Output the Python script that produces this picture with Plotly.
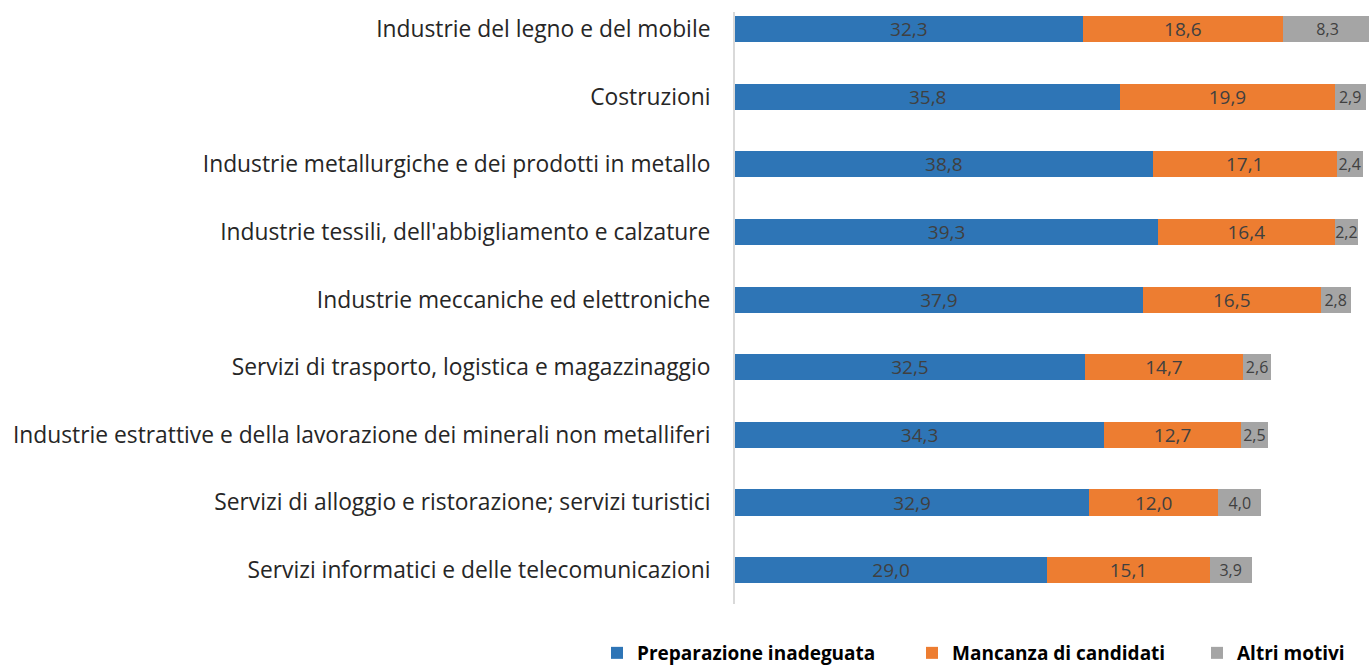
import plotly.graph_objects as go

categories = [
    "Industrie del legno e del mobile",
    "Costruzioni",
    "Industrie metallurgiche e dei prodotti in metallo",
    "Industrie tessili, dell'abbigliamento e calzature",
    "Industrie meccaniche ed elettroniche",
    "Servizi di trasporto, logistica e magazzinaggio",
    "Industrie estrattive e della lavorazione dei minerali non metalliferi",
    "Servizi di alloggio e ristorazione; servizi turistici",
    "Servizi informatici e delle telecomunicazioni",
]
preparazione = [32.3, 35.8, 38.8, 39.3, 37.9, 32.5, 34.3, 32.9, 29.0]
mancanza = [18.6, 19.9, 17.1, 16.4, 16.5, 14.7, 12.7, 12.0, 15.1]
altri = [8.3, 2.9, 2.4, 2.2, 2.8, 2.6, 2.5, 4.0, 3.9]
series_names = ["Preparazione inadeguata", "Mancanza di candidati", "Altri motivi"]

W, H = 1369, 666
FONT = "Open Sans"
colors = ["#2E75B6", "#ED7D31", "#A5A5A5"]
text_sizes = [19, 19, 16]
legend_ids = ["legend", "legend2", "legend3"]
legend_px = [597, 912, 1197]  # left edge of each legend box in px

cats_r = categories[::-1]

fig = go.Figure()
for name, vals, color, fs, lid in zip(series_names, [preparazione, mancanza, altri],
                                      colors, text_sizes, legend_ids):
    v = vals[::-1]
    fig.add_trace(go.Bar(
        y=cats_r, x=v, name=name, orientation="h", legend=lid,
        marker=dict(color=color, line=dict(width=0)),
        text=[f"{x:.1f}".replace(".", ",") for x in v],
        textposition="inside", insidetextanchor="middle",
        constraintext="none", textangle=0,
        textfont=dict(family=FONT, size=fs, color="#404040"),
        hoverinfo="skip",
    ))

legend_common = dict(
    orientation="h", xref="container", yref="container", xanchor="left",
    y=(H - 653) / H, yanchor="middle",
    font=dict(family=FONT, size=19, color="#000000", weight="bold"),
    itemwidth=30, bgcolor="rgba(0,0,0,0)",
)
legend_layout = {lid: dict(legend_common, x=px / W) for lid, px in zip(legend_ids, legend_px)}

fig.update_layout(
    barmode="stack",
    bargap=0.615,
    width=W, height=H,
    margin=dict(l=735, r=0, t=12, b=62),
    plot_bgcolor="white", paper_bgcolor="white",
    font=dict(family=FONT, size=22.8, color="#262626"),
    showlegend=True,
    xaxis=dict(range=[0, 58.9], visible=False, fixedrange=True),
    yaxis=dict(
        range=[-0.5, 8.25], showline=True, linecolor="#D9D9D9", linewidth=2,
        ticks="", ticklabelstandoff=18, showgrid=False, zeroline=False,
        tickfont=dict(family=FONT, size=22.8, color="#262626"),
        fixedrange=True,
    ),
    **legend_layout,
)

fig.write_html("out.html", config={"displayModeBar": False},
               post_script="document.body.style.margin='0';")
